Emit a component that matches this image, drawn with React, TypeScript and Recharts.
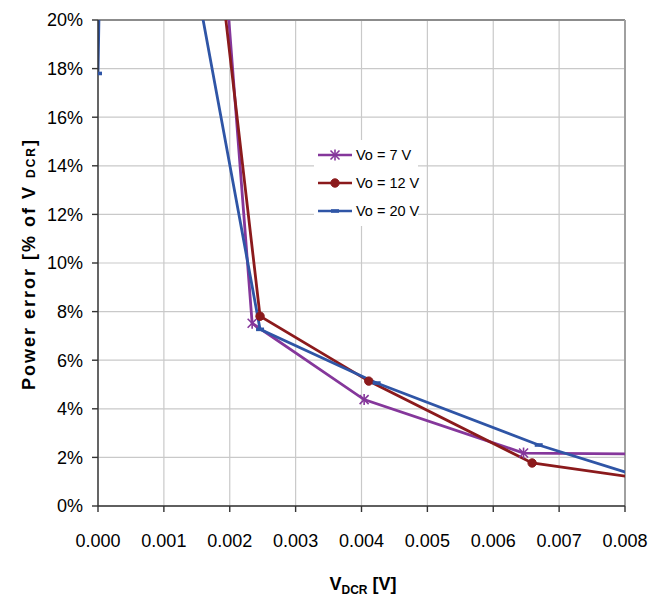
import { LineChart, Line, XAxis, YAxis, CartesianGrid, Legend, ReferenceLine } from 'recharts'

// x = V_DCR [V], y = power error [% of V_DCR]
const X_TICKS = [0, 0.001, 0.002, 0.003, 0.004, 0.005, 0.006, 0.007, 0.008]
const Y_TICKS = [0, 2, 4, 6, 8, 10, 12, 14, 16, 18, 20]

const SERIES_NAMES = ['Vo = 7 V', 'Vo = 12 V', 'Vo = 20 V']

const vo7 = [
  { x: 0.00142, y: 40 },
  { x: 0.00234, y: 7.52 },
  { x: 0.00404, y: 4.38 },
  { x: 0.00646, y: 2.18 },
  { x: 0.009, y: 2.12 },
]

const vo12 = [
  { x: 0.00109, y: 40 },
  { x: 0.00246, y: 7.81 },
  { x: 0.00411, y: 5.14 },
  { x: 0.00659, y: 1.77 },
  { x: 0.009, y: 0.85 },
]

const vo20 = [
  { x: 0, y: 17.8 },
  { x: 0.00015, y: 41.3 },
  { x: 0.00246, y: 7.27 },
  { x: 0.00423, y: 5.06 },
  { x: 0.00669, y: 2.51 },
  { x: 0.009, y: 0.55 },
]

const COLORS: Record<string, string> = {
  'Vo = 7 V':  '#85379b',
  'Vo = 12 V': '#8b1a1c',
  'Vo = 20 V': '#2f55a6',
}

const FONT = '"Liberation Sans", Arial, sans-serif'

type DotProps = { cx?: number; cy?: number; stroke?: string; index?: number }

const StarDot = ({ cx, cy, stroke }: DotProps) => {
  if (cx == null || cy == null) return null
  const r = 4.5
  return (
    <g stroke={stroke} strokeWidth={1.6}>
      <line x1={cx - r} y1={cy - r} x2={cx + r} y2={cy + r} />
      <line x1={cx - r} y1={cy + r} x2={cx + r} y2={cy - r} />
      <line x1={cx} y1={cy - r - 1} x2={cx} y2={cy + r + 1} />
    </g>
  )
}

const CircleDot = ({ cx, cy, stroke }: DotProps) => {
  if (cx == null || cy == null) return null
  return <circle cx={cx} cy={cy} r={4.2} fill={stroke} stroke={stroke} />
}

const DashDot = ({ cx, cy, stroke }: DotProps) => {
  if (cx == null || cy == null) return null
  return <rect x={cx - 4} y={cy - 1.8} width={8} height={3.6} fill={stroke} />
}

const MARKERS: Record<string, (p: DotProps) => JSX.Element | null> = {
  'Vo = 7 V':  StarDot,
  'Vo = 12 V': CircleDot,
  'Vo = 20 V': DashDot,
}

const LegendBox = ({ payload }: { payload?: { value: string; color: string }[] }) => {
  const items = [...(payload ?? [])].sort(
    (a, b) => SERIES_NAMES.indexOf(a.value) - SERIES_NAMES.indexOf(b.value),
  )
  return (
    <div style={{ background: '#fff', padding: '1px 0', width: 104 }}>
      {items.map((item) => {
        const Marker = MARKERS[item.value]
        return (
          <div key={item.value} style={{ display: 'flex', alignItems: 'center', height: 28, whiteSpace: 'nowrap' }}>
            <svg width={38} height={28} style={{ flex: 'none' }}>
              <line x1={4} y1={14} x2={38} y2={14} stroke={item.color} strokeWidth={2.6} />
              <Marker cx={21} cy={14} stroke={item.color} />
            </svg>
            <span style={{ marginLeft: 4, fontFamily: FONT, fontSize: 14.5, color: '#000' }}>
              {item.value}
            </span>
          </div>
        )
      })}
    </div>
  )
}

const seriesData: Record<string, { x: number; y: number }[]> = {
  'Vo = 7 V':  vo7,
  'Vo = 12 V': vo12,
  'Vo = 20 V': vo20,
}

export default function App() {
  return (
    <div style={{ position: 'absolute', left: 0, top: 0, width: 662, height: 597, background: '#fff' }}>
      <LineChart width={662} height={597} margin={{ top: 20, right: 37, bottom: 61, left: 0 }}>
        <CartesianGrid stroke="#c9c9c9" strokeWidth={1.2} />
        <XAxis
          dataKey="x"
          type="number"
          domain={[0, 0.008]}
          ticks={X_TICKS}
          allowDataOverflow
          height={30}
          tickFormatter={(v: number) => v.toFixed(3)}
          stroke="#333"
          strokeWidth={1.4}
          tickSize={6}
          tickMargin={22}
          tick={{ fill: '#000', fontSize: 18, fontFamily: FONT }}
          label={{
            content: () => (
              <text x={363} y={590} textAnchor="middle" fontFamily={FONT} fontWeight="bold" fontSize={18} fill="#000">
                V<tspan fontSize={12} dy={4}>DCR</tspan>
                <tspan dy={-4}> [V]</tspan>
              </text>
            ),
          }}
        />
        <YAxis
          type="number"
          domain={[0, 20]}
          ticks={Y_TICKS}
          allowDataOverflow
          width={98}
          tickFormatter={(v: number) => `${v}%`}
          stroke="#333"
          strokeWidth={1.4}
          tickSize={6}
          tickMargin={9}
          tick={{ fill: '#000', fontSize: 18, fontFamily: FONT }}
          label={{
            content: () => (
              <text
                x={0}
                y={0}
                transform="translate(35,264) rotate(-90)"
                textAnchor="middle"
                fontFamily={FONT}
                fontWeight="bold"
                fontSize={18}
                letterSpacing={2}
                fill="#000"
              >
                Power error [% of V <tspan fontSize={12}>DCR</tspan>]
              </text>
            ),
          }}
        />
        <ReferenceLine y={20} stroke="#8c8c8c" strokeWidth={2} />
        <ReferenceLine x={0.008} stroke="#a0a0a0" strokeWidth={2} />
        {SERIES_NAMES.map((name) => {
          const Marker = MARKERS[name]
          return (
            <Line
              key={name}
              name={name}
              data={seriesData[name]}
              dataKey="y"
              stroke={COLORS[name]}
              strokeWidth={2.8}
              isAnimationActive={false}
              dot={(p: DotProps) => <Marker key={`${name}-${p.index}`} {...p} stroke={COLORS[name]} />}
              activeDot={false}
            />
          )
        })}
        <Legend
          layout="vertical"
          align="center"
          verticalAlign="middle"
          content={<LegendBox />}
          wrapperStyle={{ left: 314, top: 140, width: 104 }}
        />
      </LineChart>
    </div>
  )
}
